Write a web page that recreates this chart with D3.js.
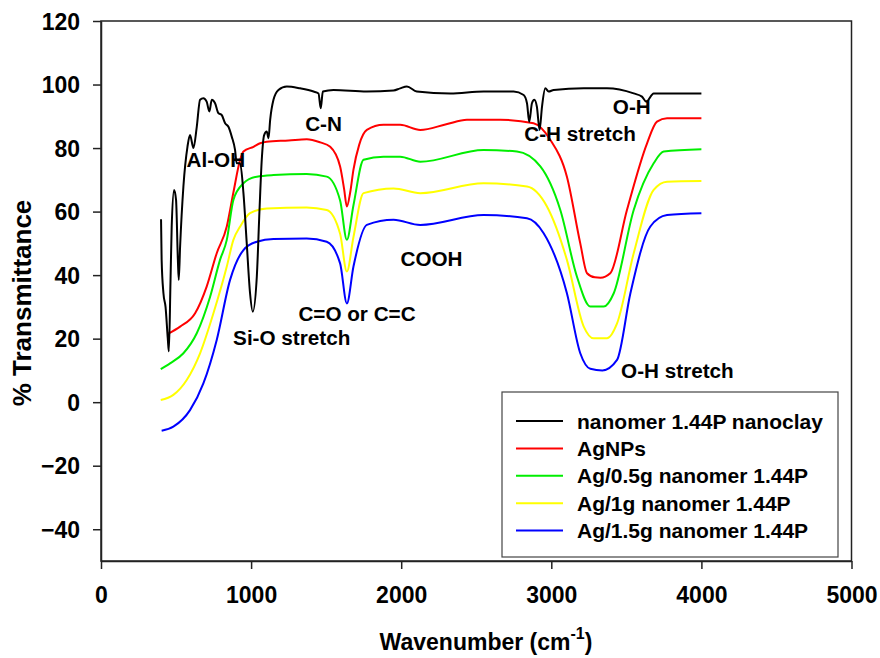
<!DOCTYPE html>
<html><head><meta charset="utf-8">
<script src="https://cdn.jsdelivr.net/npm/d3@7/dist/d3.min.js"></script>
<style>
html,body{margin:0;padding:0;background:#fff;}
text{font-family:"Liberation Sans",Arial,sans-serif;font-weight:bold;}
</style></head>
<body><svg id="c" width="880" height="658"></svg>
<script>
// ---- data ----
const seriesNames = ["nanomer 1.44P nanoclay","AgNPs","Ag/0.5g nanomer 1.44P","Ag/1g nanomer 1.44P","Ag/1.5g nanomer 1.44P"];
const seriesColors = ["#000000","#ff0000","#00ee00","#ffff00","#0000ff"];

const clayWn = [400,404,416,430,445,452,463,471,487,500,512,518,527,549,576,593,616,638,660,682,704,722,738,760,782,804,827,849,871,893,904,927,949,971,993,1011,1038,1056,1071,1087,1104,1116,1127,1149,1182,1238,1327,1416,1449,1464,1478,1549,1771,1949,1993,2038,2104,2327,2549,2749,2816,2838,2853,2871,2887,2904,2922,2938,2960,2982,3016,3216,3371,3549,3604,3633,3682,3771,4000];
const clayT  = [57.6,44.8,34.3,30,20,16,38,55.3,66.8,63.7,45,38.5,49.0,67.9,80.4,84.1,80.0,86.7,95.2,95.7,94.6,91.5,95.2,94.1,91.0,90.4,87.8,86.7,83.6,79.4,75.2,75.2,65.8,50.0,34.3,28.5,39.5,60.5,76.3,84.1,85.2,83.1,88.9,95.2,98.3,99.4,98.8,97.8,97.2,92.5,97.8,98.3,97.8,98.1,98.8,99.4,97.8,97.2,97.8,97.8,96.7,94.1,88.3,94.1,95.2,93.0,85.7,93.0,98.8,97.8,98.3,98.8,98.8,97.2,96.2,94.6,97.2,97.2,97.2];

const agWn = [449,527,627,704,771,838,882,927,949,1016,1060,1104,1250,1371,1460,1527,1593,1620,1638,1660,1682,1720,1771,1882,1993,2127,2300,2438,2660,2882,2993,3104,3193,3238,3290,3327,3393,3504,3638,3704,3771,4000];
const agT  = [21.6,23.8,28.0,36.4,46.9,55.3,66,76.3,78.9,80.4,81.5,82.0,82.4,82.8,81.8,80.4,74.2,67,61.6,66,73.2,81,85.7,87.3,87.3,85.7,87.5,88.9,88.9,87.8,82.6,71.0,50.0,40.6,39.3,39.2,40.6,60.5,81.5,88.3,89.4,89.4];

const ag05Wn = [398,460,549,638,727,793,838,882,949,1038,1149,1370,1504,1593,1638,1682,1749,1882,1993,2127,2549,2771,2927,3060,3171,3260,3349,3416,3549,3682,3749,4000];
const ag05T  = [10.4,12.2,15.4,21.7,33.2,44.8,51.1,63.7,68.9,71.0,71.5,71.8,71.0,63.5,51.1,62,76.3,77.3,77.3,75.7,79.4,78.9,74.2,60.5,39.5,30.1,30.1,34.3,60.5,75.2,78.9,79.6];

const ag1Wn = [398,482,571,660,749,838,882,927,993,1104,1370,1504,1593,1638,1682,1749,1949,2127,2549,2838,2971,3104,3216,3282,3371,3438,3549,3682,3771,4000];
const ag1T  = [0.7,2.3,7.0,15.4,28.0,42.7,51.1,55.3,59.5,61.0,61.3,60.5,53,41.1,52,65.8,67.3,65.8,68.9,67.9,61.6,44.8,23.8,20.1,20.1,24.8,46.9,66.8,69.4,69.6];

const ag15Wn = [404,482,593,682,771,860,949,1038,1149,1370,1504,1593,1638,1682,1771,1949,2127,2549,2838,2949,3104,3193,3260,3340,3438,3527,3660,3771,4000];
const ag15T  = [-9.0,-7.7,-2.5,5.9,19.6,38.5,47.9,50.5,51.4,51.5,50.5,43.7,31.1,42.7,55.8,57.4,55.8,58.9,57.9,53.2,34.3,15.4,10.5,10,13.3,34.3,55.3,58.9,59.5];

const xTicks = [0,1000,2000,3000,4000,5000];
const yTicks = [-40,-20,0,20,40,60,80,100,120];

const annotations = [
  {t:"Al-OH", w:570, v:74},
  {t:"C-N", w:1360, v:85.5},
  {t:"Si-O stretch", w:880, v:18},
  {t:"C=O or C=C", w:1315, v:25.5},
  {t:"COOH", w:1995, v:43},
  {t:"C-H stretch", w:2820, v:82.2},
  {t:"O-H", w:3410, v:90.8},
  {t:"O-H stretch", w:3465, v:7.7}
];

// ---- drawing ----
const svg = d3.select("#c");
const L=101, R=851.5, T=21, B=561;
const x = d3.scaleLinear().domain([0,5000]).range([L,R]);
const y = d3.scaleLinear().domain([-50,120]).range([B,T]);

const series = [
  {wn:clayWn, t:clayT},
  {wn:agWn, t:agT},
  {wn:ag05Wn, t:ag05T},
  {wn:ag1Wn, t:ag1T},
  {wn:ag15Wn, t:ag15T}
];

const line = d3.line().x(d=>x(d[0])).y(d=>y(d[1])).curve(d3.curveMonotoneX);
[1,2,3,4,0].forEach(i=>{
  const s = series[i];
  svg.append("path")
    .attr("d", line(s.wn.map((w,j)=>[w,s.t[j]])))
    .attr("fill","none").attr("stroke",seriesColors[i])
    .attr("stroke-width",2).attr("stroke-linejoin","round");
});

// frame
svg.append("rect").attr("x",L).attr("y",T).attr("width",R-L).attr("height",B-T)
  .attr("fill","none").attr("stroke","#222").attr("stroke-width",1.5);

const xAxis = svg.append("g").attr("transform",`translate(0,${B})`)
  .call(d3.axisBottom(x).tickValues(xTicks).tickSize(8).tickSizeOuter(0).tickPadding(18).tickFormat(d3.format("d")));
const yAxis = svg.append("g").attr("transform",`translate(${L},0)`)
  .call(d3.axisLeft(y).tickValues(yTicks).tickSize(8).tickSizeOuter(0).tickPadding(13).tickFormat(d3.format("d")));
[xAxis,yAxis].forEach(g=>{
  g.select(".domain").attr("stroke","#222").attr("stroke-width",1.5);
  g.selectAll(".tick line").attr("stroke","#222").attr("stroke-width",1.5);
  g.selectAll(".tick text").attr("font-size",23).attr("font-weight","bold")
    .attr("font-family","'Liberation Sans',Arial,sans-serif").attr("fill","#000");
});
yAxis.selectAll(".tick text").attr("dy","0.36em");

// axis titles
const xt = svg.append("text").attr("x",486).attr("y",650).attr("text-anchor","middle")
  .attr("font-size",23).attr("fill","#000");
xt.append("tspan").text("Wavenumber (cm");
xt.append("tspan").text("-1").attr("font-size",16).attr("dy",-11);
xt.append("tspan").text(")").attr("dy",11);

svg.append("text").attr("transform","translate(31,303) rotate(-90)").attr("text-anchor","middle")
  .attr("font-size",26).attr("fill","#000").text("% Transmittance");

// annotations
annotations.forEach(a=>{
  svg.append("text").attr("x",x(a.w)).attr("y",y(a.v)).attr("font-size",20.7).attr("fill","#000").text(a.t);
});

// legend
const lg = svg.append("g");
lg.append("rect").attr("x",502).attr("y",392).attr("width",336).attr("height",165)
  .attr("fill","#fff").attr("stroke","#444").attr("stroke-width",1.2);
seriesNames.forEach((n,i)=>{
  const yy = 421 + i*27.4;
  lg.append("line").attr("x1",516).attr("x2",563).attr("y1",yy).attr("y2",yy)
    .attr("stroke",seriesColors[i]).attr("stroke-width",2);
  lg.append("text").attr("x",577).attr("y",yy).attr("dy","0.36em").attr("font-size",21)
    .attr("fill","#000").text(n);
});
</script>
</body></html>
